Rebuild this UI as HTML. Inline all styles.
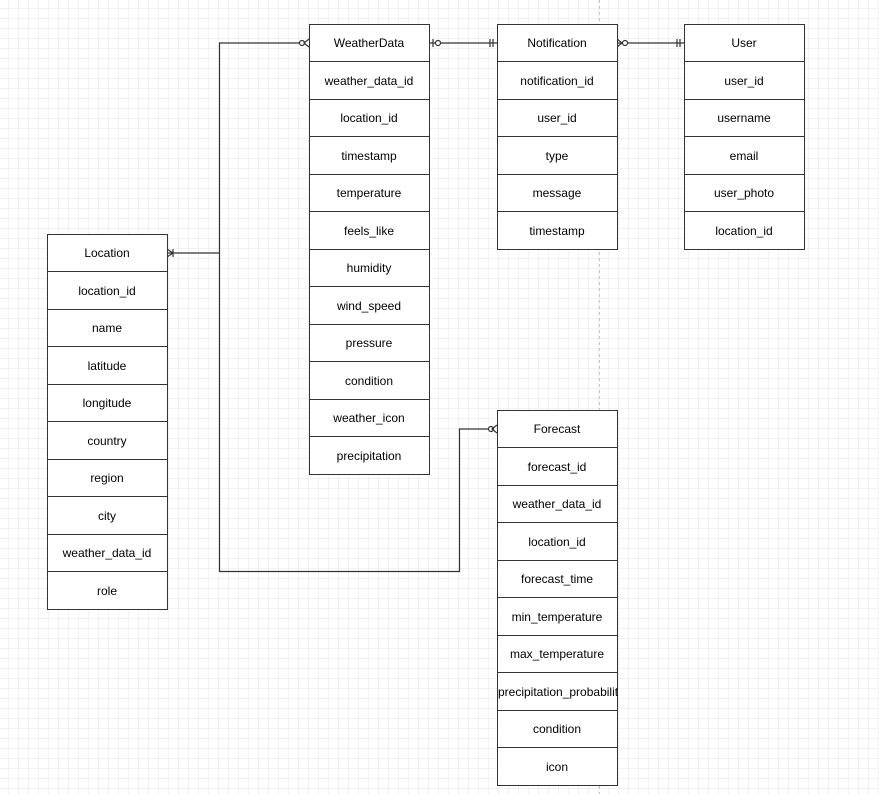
<!DOCTYPE html>
<html><head><style>
body{margin:0;background:#fff;}
svg{display:block;font-family:"Liberation Sans",Arial,sans-serif;}
</style></head><body>
<svg width="879" height="794" xmlns="http://www.w3.org/2000/svg">
<defs>
<pattern id="g" width="10" height="10" patternUnits="userSpaceOnUse" x="-1" y="-1">
<path d="M10 0V10M0 10H10" fill="none" stroke="#e6e6e6" stroke-width="1"/>
</pattern>
</defs>
<rect width="879" height="794" fill="url(#g)"/>
<line x1="599.5" y1="0" x2="599.5" y2="794" stroke="#c8c8c8" stroke-dasharray="3,3"/>
<g id="tables" font-size="12" text-anchor="middle" fill="#000"></g>
<g fill="none" stroke="#333" stroke-width="1.2">
<!-- Location to WeatherData -->
<path d="M167 253H219.5V43H300"/>
<path d="M219.5 253V571.5H459.5V429H490"/>
<!-- WD-Notification -->
<path d="M429 43H497"/>
<path d="M617 43H684"/>
<!-- ends -->
<circle cx="302" cy="43" r="2.5" fill="#fff"/><path d="M309 39L304 43L309 47"/>
<circle cx="491" cy="429" r="2.5" fill="#fff"/><path d="M497 425L492 429L497 433"/>
<path d="M433 39V47"/><circle cx="438" cy="43" r="2.5" fill="#fff"/>
<path d="M490 39V47M493 39V47"/>
<path d="M617 39L622 43L617 47"/><circle cx="625" cy="43" r="2.5" fill="#fff"/>
<path d="M677 39V47M680 39V47"/>
<path d="M173 249V257M167 249L173 253L167 257"/>
</g>
<g stroke="#333" fill="#fff" stroke-width="1">
<rect x="309.5" y="24.5" width="120" height="450"/>
<rect x="497.5" y="24.5" width="120" height="225"/>
<rect x="684.5" y="24.5" width="120" height="225"/>
<rect x="47.5" y="234.5" width="120" height="375"/>
<rect x="497.5" y="410.5" width="120" height="375"/>
</g>
<g stroke="#333" stroke-width="1">
<path d="M309 61.5H430M309 99.5H430M309 136.5H430M309 174.5H430M309 211.5H430M309 249.5H430M309 286.5H430M309 324.5H430M309 361.5H430M309 399.5H430M309 436.5H430"/>
<path d="M497 61.5H618M497 99.5H618M497 136.5H618M497 174.5H618M497 211.5H618"/>
<path d="M684 61.5H805M684 99.5H805M684 136.5H805M684 174.5H805M684 211.5H805"/>
<path d="M47 271.5H168M47 309.5H168M47 346.5H168M47 384.5H168M47 421.5H168M47 459.5H168M47 496.5H168M47 534.5H168M47 571.5H168"/>
<path d="M497 447.5H618M497 485.5H618M497 522.5H618M497 560.5H618M497 597.5H618M497 635.5H618M497 672.5H618M497 710.5H618M497 747.5H618"/>
</g>
<g font-size="12" text-anchor="middle" fill="#000">
<text x="369" y="47">WeatherData</text>
<text x="369" y="85">weather_data_id</text>
<text x="369" y="122">location_id</text>
<text x="369" y="160">timestamp</text>
<text x="369" y="197">temperature</text>
<text x="369" y="235">feels_like</text>
<text x="369" y="272">humidity</text>
<text x="369" y="310">wind_speed</text>
<text x="369" y="347">pressure</text>
<text x="369" y="385">condition</text>
<text x="369" y="422">weather_icon</text>
<text x="369" y="460">precipitation</text>
<text x="557" y="47">Notification</text>
<text x="557" y="85">notification_id</text>
<text x="557" y="122">user_id</text>
<text x="557" y="160">type</text>
<text x="557" y="197">message</text>
<text x="557" y="235">timestamp</text>
<text x="744" y="47">User</text>
<text x="744" y="85">user_id</text>
<text x="744" y="122">username</text>
<text x="744" y="160">email</text>
<text x="744" y="197">user_photo</text>
<text x="744" y="235">location_id</text>
<text x="107" y="257">Location</text>
<text x="107" y="295">location_id</text>
<text x="107" y="332">name</text>
<text x="107" y="370">latitude</text>
<text x="107" y="407">longitude</text>
<text x="107" y="445">country</text>
<text x="107" y="482">region</text>
<text x="107" y="520">city</text>
<text x="107" y="557">weather_data_id</text>
<text x="107" y="595">role</text>
<text x="557" y="433">Forecast</text>
<text x="557" y="471">forecast_id</text>
<text x="557" y="508">weather_data_id</text>
<text x="557" y="546">location_id</text>
<text x="557" y="583">forecast_time</text>
<text x="557" y="621">min_temperature</text>
<text x="557" y="658">max_temperature</text>
<text x="498" y="696" text-anchor="start">precipitation_probabilit</text>
<text x="557" y="733">condition</text>
<text x="557" y="771">icon</text>
</g>
</svg>
</body></html>
